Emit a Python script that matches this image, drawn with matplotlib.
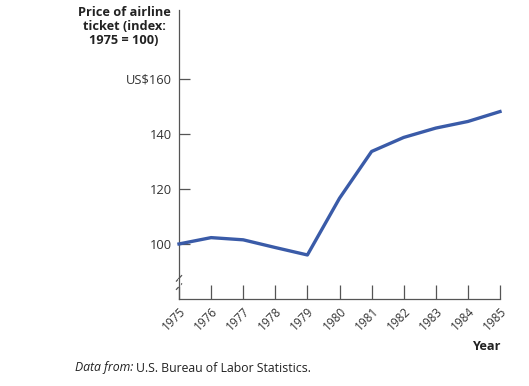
import matplotlib
matplotlib.use("Agg")
import matplotlib.pyplot as plt

years = [1975, 1976, 1977, 1978, 1979, 1980, 1981, 1982, 1983, 1984, 1985]
price_index = [100, 102.3, 101.5, 98.7, 96.0, 116.6, 133.6, 138.7, 142.1, 144.5, 148.1]
ytick_vals = [100, 120, 140, 160]
ytick_labels = ["100", "120", "140", "US$160"]

plt.rcParams['font.family'] = ['Open Sans', 'DejaVu Sans']

fig = plt.figure(figsize=(5.29, 3.86), dpi=100)
ax = fig.add_axes([179/529, 1-299/386, (500-179)/529, (299-10)/386])

axis_color = "#555555"
ax.plot(years, price_index, color="#3a5ba8", lw=2.4, solid_joinstyle="round", clip_on=False, zorder=3)

ax.set_xlim(1975, 1985)
ax.set_ylim(80, 185)
for s in ["top", "right"]:
    ax.spines[s].set_visible(False)
for s in ["left", "bottom"]:
    ax.spines[s].set_color(axis_color)
    ax.spines[s].set_linewidth(0.9)

ax.set_xticks(years)
ax.set_xticklabels([str(y) for y in years], rotation=45, ha="right", va="top",
                   rotation_mode="anchor", fontsize=8.5, color="#333333")
ax.set_yticks(ytick_vals)
ax.set_yticklabels(ytick_labels, fontsize=9.3, color="#333333")
ax.tick_params(axis="x", direction="in", length=10, width=0.9, color=axis_color, pad=4)
ax.tick_params(axis="y", direction="in", length=8, width=0.9, color=axis_color, pad=5)

# axis break marks
trans = ax.get_yaxis_transform()
for yy in [87.5, 84.5]:
    ax.plot([-0.008, 0.008], [yy - 1.0, yy + 1.0], transform=trans, color=axis_color,
            lw=0.9, clip_on=False)
ax.plot([0, 0], [85.2, 86.8], transform=trans, color="white", lw=2, clip_on=False, zorder=2)

fig.text(124/529, 1-27/386, "Price of airline\nticket (index:\n1975 = 100)", ha="center", va="center",
         fontsize=9.2, fontweight="bold", color="#222222", linespacing=1.1)
fig.text(501/529, 1-346/386, "Year", ha="right", va="center", fontsize=9.2,
         fontweight="bold", color="#222222")
t1 = fig.text(75/529, 1-368/386, "Data from:", ha="left", va="center", fontsize=8.8,
              style="italic", color="#222222")
fig.canvas.draw()
bb = t1.get_window_extent()
fig.text((bb.x1 + 3)/529, 1-368/386, "U.S. Bureau of Labor Statistics.", ha="left", va="center",
         fontsize=8.8, color="#222222")

fig.savefig("out.png", dpi=100)
